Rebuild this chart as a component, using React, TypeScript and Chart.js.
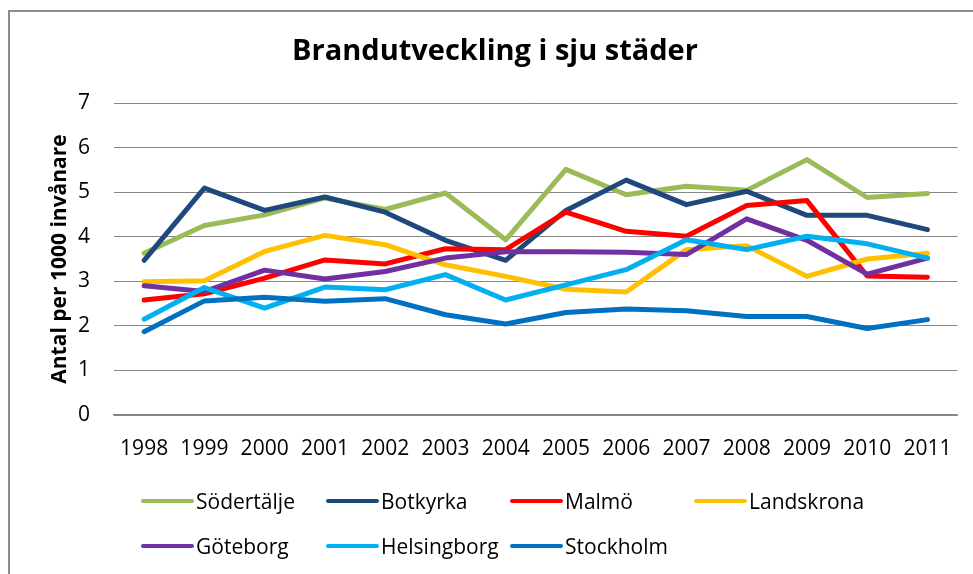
import React, { useEffect, useRef } from "react";
import { Chart, registerables } from "chart.js";

Chart.register(...registerables);

const years = ["1998", "1999", "2000", "2001", "2002", "2003", "2004", "2005", "2006", "2007", "2008", "2009", "2010", "2011"];

const sodertalje = [3.63, 4.25, 4.49, 4.87, 4.61, 4.98, 3.93, 5.51, 4.94, 5.13, 5.04, 5.73, 4.88, 4.97];
const botkyrka = [3.47, 5.09, 4.59, 4.89, 4.55, 3.92, 3.47, 4.59, 5.27, 4.72, 5.02, 4.48, 4.48, 4.16];
const malmo = [2.58, 2.72, 3.07, 3.48, 3.39, 3.73, 3.71, 4.55, 4.12, 4.01, 4.70, 4.81, 3.12, 3.09];
const landskrona = [2.99, 3.01, 3.67, 4.03, 3.82, 3.37, 3.11, 2.82, 2.76, 3.71, 3.80, 3.11, 3.50, 3.63];
const goteborg = [2.90, 2.77, 3.25, 3.05, 3.22, 3.52, 3.66, 3.66, 3.65, 3.60, 4.40, 3.92, 3.16, 3.52];
const helsingborg = [2.15, 2.86, 2.40, 2.87, 2.81, 3.15, 2.58, 2.92, 3.26, 3.93, 3.71, 4.01, 3.84, 3.52];
const stockholm = [1.87, 2.56, 2.64, 2.55, 2.61, 2.25, 2.04, 2.30, 2.38, 2.34, 2.21, 2.21, 1.94, 2.14];

const seriesNames = ["Södertälje", "Botkyrka", "Malmö", "Landskrona", "Göteborg", "Helsingborg", "Stockholm"];
const seriesValues = [sodertalje, botkyrka, malmo, landskrona, goteborg, helsingborg, stockholm];
const seriesColors = ["#9BBB59", "#1F497D", "#FF0000", "#FFC000", "#7030A0", "#00B0F0", "#0070C0"];

const yTicks = [0, 1, 2, 3, 4, 5, 6, 7];

const titleText = "Brandutveckling i sju städer";
const yTitleText = "Antal per 1000 invånare";

const FONT = "'Open Sans', 'Liberation Sans', sans-serif";

export default function App() {
  const canvasRef = useRef<HTMLCanvasElement | null>(null);

  useEffect(() => {
    document.body.style.margin = "0";
    const canvas = canvasRef.current;
    if (!canvas) return;
    const chart = new Chart(canvas, {
      type: "line",
      data: {
        labels: years,
        datasets: seriesNames.map((name, i) => ({
          label: name,
          data: seriesValues[i],
          borderColor: seriesColors[i],
          backgroundColor: seriesColors[i],
          borderWidth: 5,
          pointRadius: 0,
          pointHoverRadius: 0,
          tension: 0,
          fill: false,
          borderJoinStyle: "round" as const,
          borderCapStyle: "round" as const,
          order: seriesNames.length - i,
        })),
      },
      options: {
        responsive: false,
        animation: false,
        layout: { padding: { left: 32, right: 15, top: 0, bottom: 0 } },
        plugins: {
          legend: { display: false },
          tooltip: { enabled: false },
          title: {
            display: true,
            text: titleText,
            color: "#000",
            font: { family: FONT, size: 29, weight: "bold" },
            padding: { top: 34, bottom: 34.2 },
          },
        },
        scales: {
          x: {
            type: "category",
            offset: true,
            grid: { display: false, drawTicks: false },
            border: { display: true, color: "#868686", width: 1.5 },
            ticks: {
              color: "#000",
              font: { family: FONT, size: 21 },
              padding: 21,
              maxRotation: 0,
              autoSkip: false,
            },
            afterFit: (scale: any) => {
              scale.height = 159;
            },
          },
          y: {
            min: 0,
            max: 7,
            afterBuildTicks: (scale: any) => {
              scale.ticks = yTicks.map((v) => ({ value: v }));
            },
            grid: { color: "#868686", lineWidth: 1, drawTicks: false },
            border: { display: false },
            ticks: {
              color: "#000",
              font: { family: FONT, size: 21 },
              padding: 24,
            },
            title: {
              display: true,
              text: yTitleText,
              color: "#000",
              font: { family: FONT, size: 21, weight: "bold" },
              padding: { top: 15, bottom: 0 },
            },
            afterFit: (scale: any) => {
              scale.width = 82;
            },
          },
        },
      },
    });
    return () => chart.destroy();
  }, []);

  const legendCols = [141, 326, 510, 694];
  const legendRows = [501, 546];

  return (
    <div style={{ position: "fixed", left: 0, top: 0, width: 973, height: 574, background: "#fff", overflow: "hidden" }}>
      <div
        style={{
          position: "absolute",
          left: 8,
          top: 10,
          width: 980,
          height: 600,
          borderLeft: "2px solid #8c8c8c",
          borderTop: "2px solid #8c8c8c",
        }}
      />
      <canvas ref={canvasRef} width={973} height={574} style={{ position: "absolute", left: 0, top: 0, width: 973, height: 574 }} />
      {seriesNames.map((name, i) => {
        const col = i < 4 ? i : i - 4;
        const row = i < 4 ? 0 : 1;
        return (
          <div
            key={name}
            style={{
              position: "absolute",
              left: legendCols[col],
              top: legendRows[row] - 15,
              height: 30,
              display: "flex",
              alignItems: "center",
              fontFamily: FONT,
              fontSize: 21,
              color: "#000",
              whiteSpace: "nowrap",
            }}
          >
            <div style={{ width: 53, height: 4.5, borderRadius: 2.25, background: seriesColors[i], marginRight: 2 }} />
            <span style={{ lineHeight: "30px" }}>{name}</span>
          </div>
        );
      })}
    </div>
  );
}
